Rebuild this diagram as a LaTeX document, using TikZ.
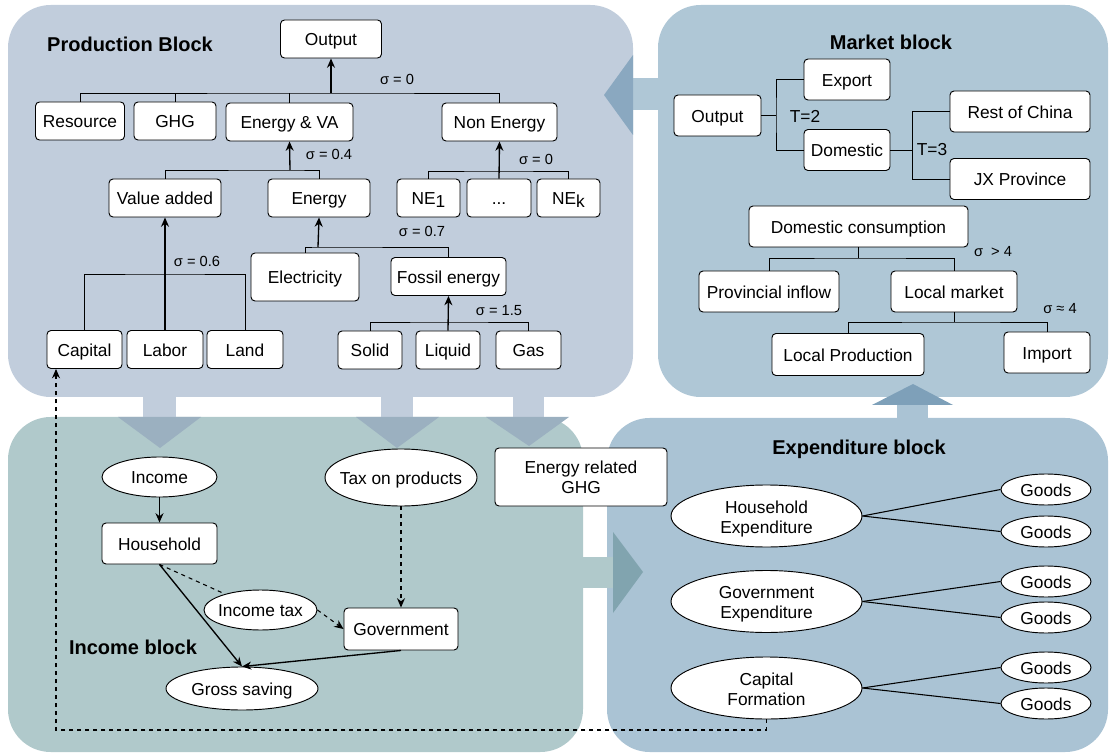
\documentclass[tikz,border=0pt]{standalone}
\usepackage{fontspec}
\setmainfont{Liberation Sans}
\usetikzlibrary{shapes.geometric,arrows.meta}

\definecolor{prodbg}{HTML}{C1CDDC}
\definecolor{mktbg}{HTML}{AFC7D6}
\definecolor{incbg}{HTML}{B0C9CB}
\definecolor{expbg}{HTML}{AAC3D4}
\definecolor{prodarr}{HTML}{9BB0C0}
\definecolor{mktarr}{HTML}{8AA8C0}
\definecolor{incarr}{HTML}{81A4AF}
\definecolor{exparr}{HTML}{7EA0B9}

\newcommand{\inoval}[1]{\makebox[0pt]{\begin{tabular}{@{}c@{}}#1\end{tabular}}}

\begin{document}
\begin{tikzpicture}[x=0.75pt,y=-0.75pt,
  box/.style={draw,fill=white,rounded corners=3pt,inner sep=1pt,line width=0.7pt,
    minimum height=28.5pt,text height=10.6pt,text depth=0.5pt,
    font=\fontsize{13}{15}\selectfont},
  mbox/.style={box,minimum height=30.75pt},
  gbox/.style={draw,fill=white,rounded corners=3pt,inner sep=1pt,line width=0.7pt,
    align=center,font=\fontsize{13}{15}\selectfont},
  oval/.style={draw,fill=white,ellipse,inner sep=0pt,line width=0.7pt,
    text height=10.6pt,text depth=0.5pt,font=\fontsize{13}{15}\selectfont},
  oval2/.style={oval,text height=20pt,text depth=9.4pt},
  sig/.style={inner sep=0pt,font=\fontsize{11}{13}\selectfont},
  tlab/.style={inner sep=0pt,font=\fontsize{13}{15}\selectfont},
  title/.style={inner sep=0pt,font=\bfseries\fontsize{15}{18}\selectfont},
  >={Stealth[length=7pt,width=6pt]}]
\useasboundingbox (0,0) rectangle (1110,755);

% blocks
\fill[prodbg,rounded corners=32pt] (8,5) rectangle (633,397);
\fill[mktbg,rounded corners=32pt] (658,5) rectangle (1108,397);
\fill[incbg,rounded corners=32pt] (8,417) rectangle (583,752);
\fill[expbg,rounded corners=32pt] (607,418) rectangle (1108,752);

% flows between blocks
\fill[mktbg] (630,78) rectangle (660,110);
\fill[mktarr] (633,55) -- (604,95) -- (633,135) -- cycle;
\fill[prodbg] (143,395) rectangle (176,418);
\fill[prodarr] (118,417) -- (160,448) -- (201,417) -- cycle;
\fill[prodbg] (381,395) rectangle (413,418);
\fill[prodarr] (356,417) -- (397,448) -- (439,417) -- cycle;
\fill[prodbg] (513,395) rectangle (544,418);
\fill[prodarr] (486,417) -- (529,446) -- (569,417) -- cycle;
\fill[incbg] (580,557) rectangle (614,588);
\fill[incarr] (613,532) -- (643,572) -- (613,613) -- cycle;
\fill[expbg] (897,395) rectangle (928,420);
\fill[exparr] (872,405) -- (913,384) -- (953,405) -- cycle;

% production block
\node[title] (ptitle) at (130,44) {Production Block};
\node[box,minimum width=75.75pt] (out) at (331,39) {Output};
\node[box,minimum width=66.75pt] (res) at (80,121) {Resource};
\node[box,minimum width=61.5pt] (ghg) at (175,121) {GHG};
\node[box,minimum width=95.25pt] (eva) at (289.5,122) {Energy \& VA};
\node[box,minimum width=86.25pt] (nen) at (499.5,122) {Non Energy};
\node[box,minimum width=84pt] (va) at (165,198) {Value added};
\node[box,minimum width=76.5pt] (en) at (319,198) {Energy};
\node[box,minimum width=47.25pt] (ne1) at (428.5,198) {NE\raisebox{-2pt}{1}};
\node[box,minimum width=48pt] (nedots) at (499,198) {...};
\node[box,minimum width=47.25pt] (nek) at (568.5,198) {NE\raisebox{-2pt}{k}};
\node[box,minimum width=81pt,minimum height=36pt] (elec) at (305,277) {Electricity};
\node[box,minimum width=86.25pt] (fos) at (448.5,276.5) {Fossil energy};
\node[box,minimum width=56.25pt] (cap) at (84.5,349.5) {Capital};
\node[box,minimum width=57pt] (lab) at (165,349.5) {Labor};
\node[box,minimum width=57pt] (land) at (245,349.5) {Land};
\node[box,minimum width=48pt] (sol) at (370,350) {Solid};
\node[box,minimum width=48pt] (liq) at (448,350) {Liquid};
\node[box,minimum width=48.75pt] (gas) at (528.5,350) {Gas};

\coordinate (b1) at (331,93);
\coordinate (b2) at (290,170);
\coordinate (b3) at (499,171);
\coordinate (b4) at (318,247);
\coordinate (b5) at (165,274);
\coordinate (b6) at (449,322);

\draw[line width=0.7pt] (res.north) |- (b1) -| (nen.north);
\draw[line width=0.7pt] (ghg.north) -- (ghg.north |- b1);
\draw[line width=0.7pt] (eva.north) -- (eva.north |- b1);
\draw[line width=1pt,->] (b1) -- (out.south);
\draw[line width=0.7pt] (va.north) |- (b2) -| (en.north);
\draw[line width=1pt,->] (b2) -- (eva.south);
\draw[line width=0.7pt] (ne1.north) |- (b3) -| (nek.north);
\draw[line width=1pt,->] (nedots.north) -- (nen.south);
\draw[line width=0.7pt] (elec.north) |- (b4) -| (fos.north);
\draw[line width=1pt,->] (b4) -- (en.south);
\draw[line width=0.7pt] (cap.north) |- (b5) -| (land.north);
\draw[line width=1pt,->] (lab.north) -- (va.south);
\draw[line width=0.7pt] (sol.north) |- (b6) -| (gas.north);
\draw[line width=1pt,->] (liq.north) -- (fos.south);

\node[sig] (s1) at (397,79) {σ = 0};
\node[sig] (s2) at (329,154) {σ = 0.4};
\node[sig] (s3) at (536,159) {σ = 0};
\node[sig] (s4) at (422,231) {σ = 0.7};
\node[sig] (s5) at (197,261) {σ = 0.6};
\node[sig] (s6) at (499,311) {σ = 1.5};

% market block
\node[title] (mtitle) at (891,42) {Market block};
\node[mbox,minimum width=65.25pt] (mout) at (717.5,115.5) {Output};
\node[mbox,minimum width=64.5pt] (expt) at (847,79.5) {Export};
\node[mbox,minimum width=64.5pt] (dom) at (847,150) {Domestic};
\node[mbox,minimum width=105pt] (roc) at (1020,111.5) {Rest of China};
\node[mbox,minimum width=105pt] (jx) at (1020,179) {JX Province};
\node[mbox,minimum width=164.25pt] (dc) at (858.5,226.5) {Domestic consumption};
\node[mbox,minimum width=105pt] (pin) at (769,291.5) {Provincial inflow};
\node[mbox,minimum width=94.5pt] (lm) at (954,291.5) {Local market};
\node[mbox,minimum width=114pt,minimum height=31.5pt] (lp) at (848,354.5) {Local Production};
\node[mbox,minimum width=64.5pt] (imp) at (1047,352.5) {Import};

\coordinate (m1) at (776,115.5);
\coordinate (m2) at (912,150);
\coordinate (m3) at (858.5,258);
\coordinate (m4) at (954,322);

\draw[line width=0.7pt] (mout.east) -- (m1);
\draw[line width=0.7pt] (expt.west) -| (m1) |- (dom.west);
\draw[line width=0.7pt] (dom.east) -- (m2);
\draw[line width=0.7pt] (roc.west) -| (m2) |- (jx.west);
\draw[line width=0.7pt] (dc.south) -- (m3);
\draw[line width=0.7pt] (pin.north) |- (m3) -| (lm.north);
\draw[line width=0.7pt] (lm.south) -- (m4);
\draw[line width=0.7pt] (lp.north) |- (m4) -| (imp.north);

\node[tlab] (t2) at (805,116) {T=2};
\node[tlab] (t3) at (932,150) {T=3};
\node[sig] (s7) at (993,252) {σ \ > 4};
\node[sig] (s8) at (1060,309) {σ ≈ 4};

% income block
\node[title] (ititle) at (133,647) {Income block};
\node[oval,minimum width=86.25pt,minimum height=30pt] (inc) at (159.5,477) {\inoval{Income}};
\node[box,minimum width=86.25pt,minimum height=30.75pt] (hh) at (159.5,543.5) {Household};
\node[oval,minimum width=114pt,minimum height=42.75pt] (tax) at (401,477.5) {\inoval{Tax on products}};
\node[oval,minimum width=84.75pt,minimum height=30pt] (itax) at (260.5,610) {\inoval{Income tax}};
\node[box,minimum width=85.5pt,minimum height=31.5pt] (gov) at (401,629) {Government};
\node[oval,minimum width=114pt,minimum height=32.25pt] (gs) at (242,688.5) {\inoval{Gross saving}};
\node[gbox,minimum width=129pt,minimum height=43.5pt] (eghg) at (581,477) {Energy related\\GHG};

\draw[line width=1pt,->] (inc) -- (hh);
\draw[line width=1pt,->] (hh.south) -- (gs.north);
\draw[line width=0.8pt,dashed] (hh.south) -- (itax);
\draw[line width=0.8pt,dashed,->] (itax.east) -- (gov.west);
\draw[line width=0.8pt,dashed,->] (tax) -- (gov);
\draw[line width=1pt,->] (gov.south) -- (gs.north);

% expenditure block
\node[title] (etitle) at (859,449) {Expenditure block};
\node[oval2,minimum width=143.25pt,minimum height=46.5pt] (hexp) at (766.5,516) {\inoval{Household\\Expenditure}};
\node[oval2,minimum width=143.25pt,minimum height=46.5pt] (gexp) at (766.5,601.5) {\inoval{Government\\Expenditure}};
\node[oval2,minimum width=143.25pt,minimum height=46.5pt] (capf) at (766.5,688) {\inoval{Capital\\Formation}};
\node[oval,minimum width=67.5pt,minimum height=23.25pt] (g1) at (1046,489.5) {\inoval{Goods}};
\node[oval,minimum width=67.5pt,minimum height=23.25pt] (g2) at (1046,531.5) {\inoval{Goods}};
\node[oval,minimum width=67.5pt,minimum height=23.25pt] (g3) at (1046,581.5) {\inoval{Goods}};
\node[oval,minimum width=67.5pt,minimum height=23.25pt] (g4) at (1046,617.5) {\inoval{Goods}};
\node[oval,minimum width=67.5pt,minimum height=23.25pt] (g5) at (1046,667.5) {\inoval{Goods}};
\node[oval,minimum width=67.5pt,minimum height=23.25pt] (g6) at (1046,703.5) {\inoval{Goods}};

\draw[line width=0.8pt] (hexp.east) -- (g1.west);
\draw[line width=0.8pt] (hexp.east) -- (g2.west);
\draw[line width=0.8pt] (gexp.east) -- (g3.west);
\draw[line width=0.8pt] (gexp.east) -- (g4.west);
\draw[line width=0.8pt] (capf.east) -- (g5.west);
\draw[line width=0.8pt] (capf.east) -- (g6.west);

% capital loop
\coordinate (loop) at (56,730);
\draw[line width=0.8pt,dashed,->] (capf.south) |- (loop) -- (loop |- cap.south);
\end{tikzpicture}
\end{document}
